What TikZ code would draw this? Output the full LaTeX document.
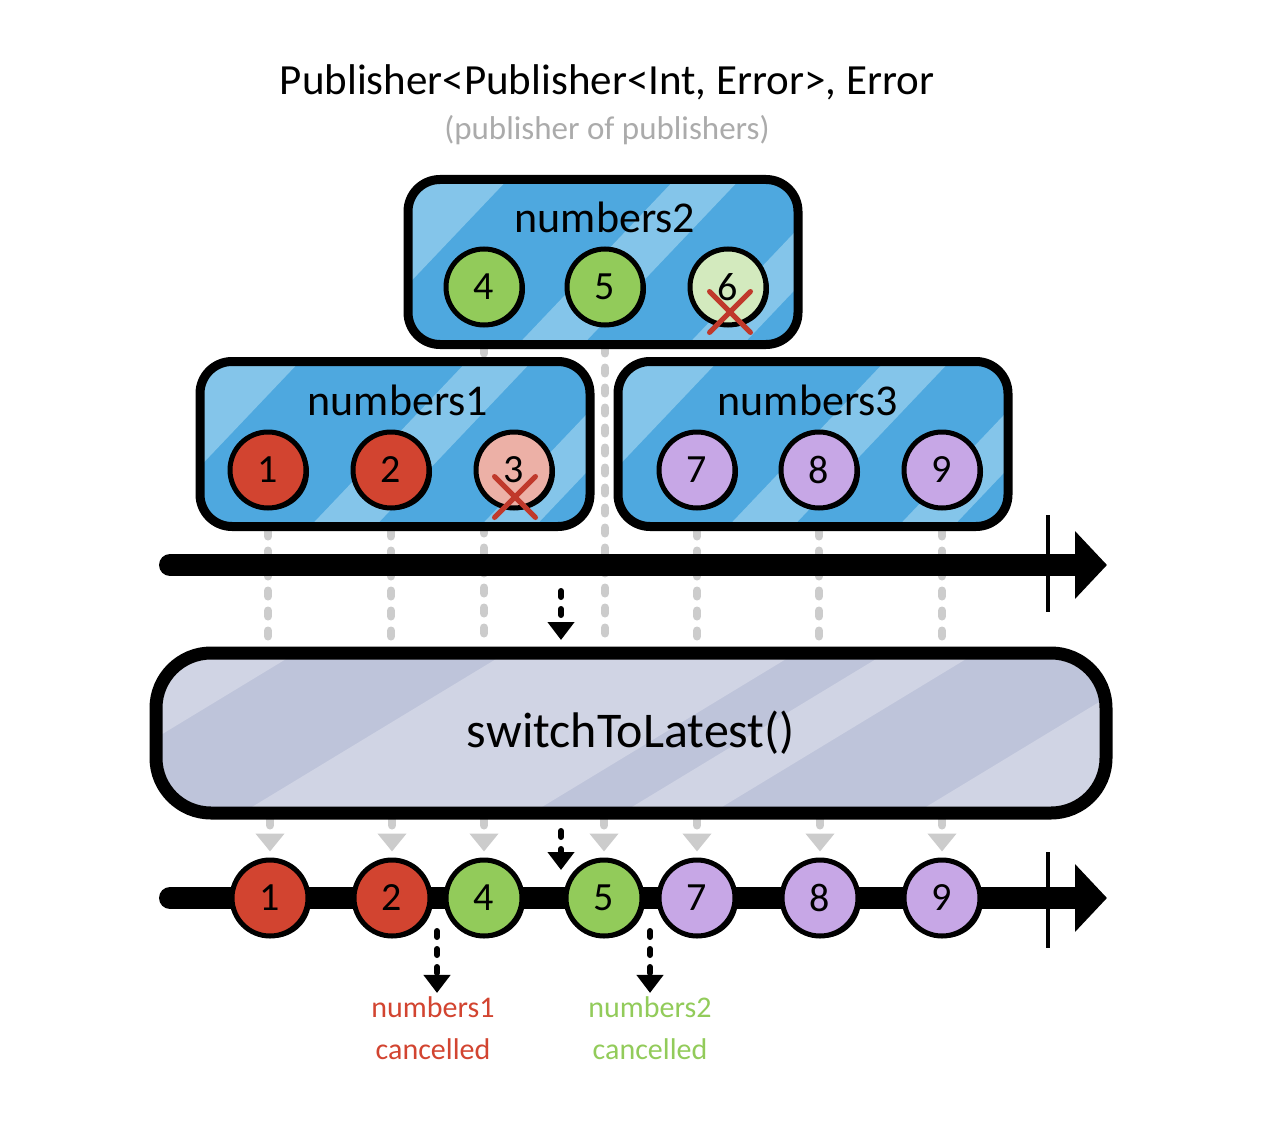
\documentclass[tikz,border=0pt]{standalone}
\usepackage{fontspec}
\setmainfont{Carlito}
\usetikzlibrary{arrows.meta,shadows,shapes.misc,backgrounds}

\definecolor{boxblue}{HTML}{4EA8DF}
\definecolor{boxstripe}{HTML}{84C5EA}
\definecolor{opfill}{HTML}{BEC4DA}
\definecolor{opstripe}{HTML}{D0D4E4}
\definecolor{nred}{HTML}{D24430}
\definecolor{npink}{HTML}{ECB0A6}
\definecolor{ngreen}{HTML}{92CB5A}
\definecolor{nlight}{HTML}{D3EABE}
\definecolor{npurple}{HTML}{C7A7E6}
\definecolor{dashgray}{HTML}{CCCCCC}
\definecolor{xred}{HTML}{C0392B}

\begin{document}
\begin{tikzpicture}[x=1pt,y=-1pt,
  stripes/.style n args={3}{path picture={
    \foreach \s/\w in {#2}
      \fill[#1, sharp corners] ([xshift=\s pt]path picture bounding box.south west)
        -- ++(\w pt,0pt) -- ++(#3 pt,200pt) -- ++(-\w pt,0pt) -- cycle;}}]
\tikzstyle{numbox}=[draw, line width=9pt, rounded corners=32pt, fill=boxblue, stripes={boxstripe}{-157/100,110/65,280/55,370/60}{190}, minimum width=390pt, minimum height=165pt]
\tikzstyle{boxlabel}=[font=\fontsize{44}{46}\selectfont]
\tikzstyle{ball}=[draw, circle, line width=5pt, minimum size=76pt, inner sep=0pt, font=\fontsize{40}{42}\selectfont, drop shadow={shadow xshift=3pt, shadow yshift=-2pt, fill=black, opacity=1}]
\tikzstyle{crossmark}=[cross out, draw=xred, line width=5pt, line cap=round, minimum size=36pt, inner sep=0pt]
\tikzstyle{timeline}=[line width=22pt, line cap=round, -{Triangle[length=32pt,width=66pt]}]
\tikzstyle{tick}=[line width=4pt]
\tikzstyle{flow}=[line width=6pt, dash pattern=on 6pt off 12pt, line cap=round, -{Triangle[length=18pt,width=26pt]}]
\tikzstyle{gline}=[dashgray, line width=8pt, dash pattern=on 6pt off 14pt, line cap=round]
\useasboundingbox (0,0) rectangle (1268,1134);

% title
\node[font=\fontsize{43}{46}\selectfont] (title) at (607,82) {Publisher<Publisher<Int, Error>, Error};
\node[font=\fontsize{33}{35}\selectfont, text=black!33] (sub) at (607,130) {(publisher of publishers)};

% inner publishers
\node[numbox] (n2) at (603,262) {};
\node[boxlabel] (n2l) at (605,217) {numbers2};
\node[ball, fill=ngreen] (b4) at (484,287) {4};
\node[ball, fill=ngreen] (b5) at (605,287) {5};
\node[ball, fill=nlight] (b6) at (728,287) {6};
\node[crossmark] (x6) at (730,312) {};

\node[numbox] (n1) at (395,444) {};
\node[boxlabel] (n1l) at (398,400) {numbers1};
\node[ball, fill=nred] (b1) at (268,470) {1};
\node[ball, fill=nred] (b2) at (391,470) {2};
\node[ball, fill=npink] (b3) at (514,470) {3};
\node[crossmark] (x3) at (515,497) {};

\node[numbox] (n3) at (813,444) {};
\node[boxlabel] (n3l) at (808,400) {numbers3};
\node[ball, fill=npurple] (b7) at (697,470) {7};
\node[ball, fill=npurple] (b8) at (819,470) {8};
\node[ball, fill=npurple] (b9) at (942,470) {9};

% upstream timeline
\coordinate (t1s) at (170,565);
\coordinate (t1e) at (1107,565);
\draw[timeline] (t1s) -- (t1e);
\draw[tick] (1048,515) -- (1048,612);

% operator
\node[draw, line width=13pt, rounded corners=55pt, fill=opfill, stripes={opstripe}{-304/180,86/290,466/90,760/150}{330}, minimum width=950pt, minimum height=160pt, font=\fontsize{50}{52}\selectfont] (op) at (631,733) {switchToLatest()};
\coordinate (d1) at (561,591);
\draw[flow] (d1) -- (561,640);

% output timeline
\coordinate (t2s) at (170,898);
\coordinate (t2e) at (1107,898);
\draw[timeline] (t2s) -- (t2e);
\draw[tick] (1048,852) -- (1048,948);
\node[ball, fill=nred] (o1) at (270,898) {1};
\node[ball, fill=nred] (o2) at (392,898) {2};
\node[ball, fill=ngreen] (o4) at (484,898) {4};
\node[ball, fill=ngreen] (o5) at (604,898) {5};
\node[ball, fill=npurple] (o7) at (697,898) {7};
\node[ball, fill=npurple] (o8) at (820,898) {8};
\node[ball, fill=npurple] (o9) at (942,898) {9};
\coordinate (d2) at (561,831);
\draw[flow] (d2) -- (561,870);

% cancellations
\node[font=\fontsize{30}{42}\selectfont, text=nred, align=center] (c1) at (433,1028) {numbers1\\cancelled};
\node[font=\fontsize{30}{42}\selectfont, text=ngreen, align=center] (c2) at (650,1028) {numbers2\\cancelled};
\coordinate (d3) at (437,931);
\coordinate (d4) at (650,931);
\draw[flow] (d3) -- (d3 |- c1.north);
\draw[flow] (d4) -- (d4 |- c2.north);

% value paths
\begin{scope}[on background layer]
\foreach \v in {1,2,4,5,7,8,9} {
  \draw[gline] (b\v) -- (b\v |- op.north);
  \draw[gline, -{Triangle[length=18pt,width=28pt]}] (op.south -| o\v) -- ([yshift=6pt]o\v.north);
}
\end{scope}
\end{tikzpicture}
\end{document}
